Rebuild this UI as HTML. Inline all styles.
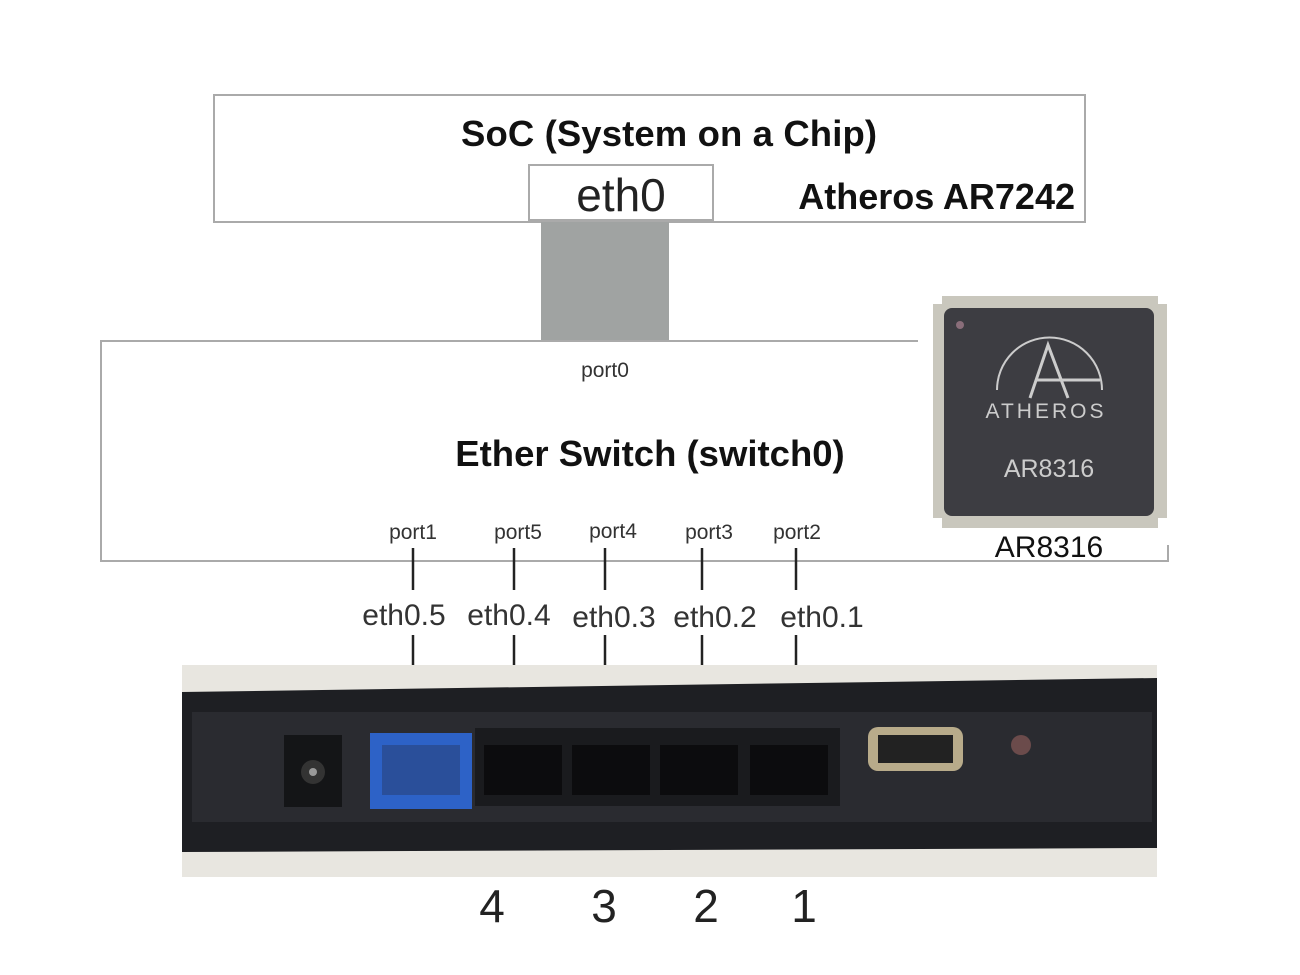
<!DOCTYPE html>
<html><head><meta charset="utf-8"><style>
html,body{margin:0;padding:0;background:#fff;width:1300px;height:975px;overflow:hidden}
svg{display:block}
text{font-family:"Liberation Sans",sans-serif}
</style></head><body>
<svg width="1300" height="975" viewBox="0 0 1300 975">
<rect x="214" y="95" width="871" height="127" fill="#fff" stroke="#aaa" stroke-width="2"/>
<text x="669" y="146" font-size="36.5" font-weight="bold" text-anchor="middle" fill="#111" textLength="416">SoC (System on a Chip)</text>
<text x="1075" y="209" font-size="36" font-weight="bold" text-anchor="end" fill="#111">Atheros AR7242</text>
<rect x="529" y="165" width="184" height="55" fill="#fff" stroke="#aaa" stroke-width="2"/>
<text x="621" y="211" font-size="46" text-anchor="middle" fill="#222">eth0</text>
<rect x="541" y="222" width="128" height="120" fill="#a0a3a2"/>
<path d="M918 341 L101 341 L101 561 L1168 561 L1168 545" fill="none" stroke="#aaa" stroke-width="2"/>
<text x="605" y="377" font-size="21" text-anchor="middle" fill="#333">port0</text>
<text x="650" y="466" font-size="36.5" font-weight="bold" text-anchor="middle" fill="#111">Ether Switch (switch0)</text>
<g font-size="21" fill="#333" text-anchor="middle">
<text x="413" y="539">port1</text><text x="518" y="539">port5</text><text x="613" y="538">port4</text><text x="709" y="539">port3</text><text x="797" y="539">port2</text>
</g>
<g stroke="#222" stroke-width="2.5">
<line x1="413" y1="548" x2="413" y2="590"/><line x1="514" y1="548" x2="514" y2="590"/><line x1="605" y1="548" x2="605" y2="590"/><line x1="702" y1="548" x2="702" y2="590"/><line x1="796" y1="548" x2="796" y2="590"/>
<line x1="413" y1="635" x2="413" y2="678"/><line x1="514" y1="635" x2="514" y2="678"/><line x1="605" y1="635" x2="605" y2="678"/><line x1="702" y1="635" x2="702" y2="678"/><line x1="796" y1="635" x2="796" y2="678"/>
</g>
<g font-size="30" fill="#333" text-anchor="middle">
<text x="404" y="625">eth0.5</text><text x="509" y="625">eth0.4</text><text x="614" y="627">eth0.3</text><text x="715" y="627">eth0.2</text><text x="822" y="627">eth0.1</text>
</g>
<rect x="933" y="304" width="234" height="214" fill="#c9c7bd"/>
<rect x="942" y="296" width="216" height="232" fill="#c9c7bd"/>
<rect x="944" y="308" width="210" height="208" rx="8" fill="#3d3d42"/>
<circle cx="960" cy="325" r="4" fill="#8a6e7a"/>
<path d="M997 390 A52 52 0 1 1 1102 390" fill="none" stroke="#ccc" stroke-width="2"/>
<path d="M1030 398 L1048 345 L1068 398 M1036 380 L1100 380" fill="none" stroke="#ccc" stroke-width="3"/>
<text x="1046" y="418" font-size="21" fill="#ccc" text-anchor="middle" letter-spacing="3">ATHEROS</text>
<text x="1049" y="477" font-size="25" fill="#ccc" text-anchor="middle">AR8316</text>
<text x="1049" y="557" font-size="30" fill="#111" text-anchor="middle">AR8316</text>
<rect x="182" y="665" width="975" height="212" fill="#e8e6e0"/>
<path d="M182 692 L1157 678 L1157 848 L182 852 Z" fill="#1e1f23"/>
<rect x="192" y="712" width="960" height="110" fill="#2a2b30"/>
<rect x="284" y="735" width="58" height="72" fill="#141517"/>
<circle cx="313" cy="772" r="12" fill="#333"/><circle cx="313" cy="772" r="4" fill="#999"/>
<rect x="370" y="733" width="102" height="76" fill="#2d62c7"/>
<rect x="382" y="745" width="78" height="50" fill="#2a4f9a"/>
<rect x="475" y="728" width="365" height="78" fill="#1a1b1e"/>
<g fill="#0c0c0e">
<rect x="484" y="745" width="78" height="50"/><rect x="572" y="745" width="78" height="50"/><rect x="660" y="745" width="78" height="50"/><rect x="750" y="745" width="78" height="50"/>
</g>
<rect x="868" y="727" width="95" height="44" rx="10" fill="#b8ab8a"/>
<rect x="878" y="735" width="75" height="28" fill="#222"/>
<circle cx="1021" cy="745" r="10" fill="#6b4b4b"/>
<g font-size="46" fill="#222" text-anchor="middle">
<text x="492" y="922">4</text><text x="604" y="922">3</text><text x="706" y="922">2</text><text x="804" y="922">1</text>
</g>
</svg>
</body></html>
